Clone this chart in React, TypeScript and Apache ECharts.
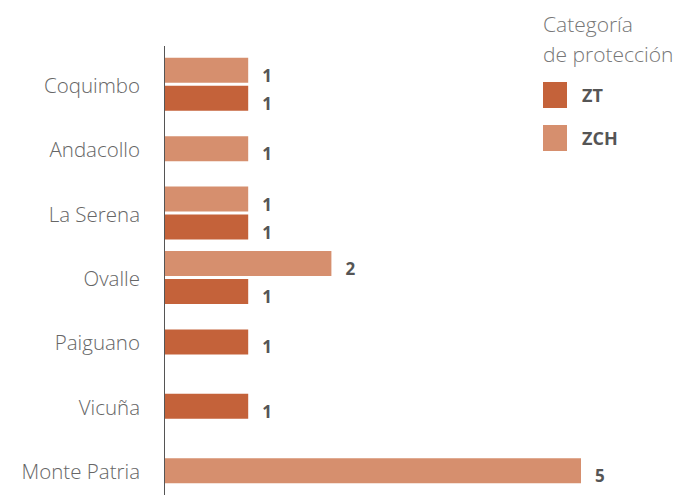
import React, { useEffect, useRef } from "react";
import * as echarts from "echarts";

const categories = ["Coquimbo", "Andacollo", "La Serena", "Ovalle", "Paiguano", "Vicuña", "Monte Patria"];
const ztValues: (number | null)[] = [1, null, 1, 1, 1, 1, null];
const zchValues: (number | null)[] = [1, 1, 1, 2, null, null, 5];
const legendTitle = "Categoría\nde protección";

const ZT_COLOR = "#c4623a";
const ZCH_COLOR = "#d68f6e";
const FONT = "'Open Sans', 'Noto Sans', sans-serif";

export default function App() {
  const ref = useRef<HTMLDivElement>(null);
  useEffect(() => {
    if (!ref.current) return;
    document.body.style.overflow = "hidden";
    const chart = echarts.init(ref.current, undefined, { renderer: "svg" });
    const both = categories.map((_, i) => ztValues[i] != null && zchValues[i] != null);
    const pairZch = zchValues.map((v, i) => (both[i] ? v : null));
    const pairZt = ztValues.map((v, i) => (both[i] ? v : null));
    const singleZch = zchValues.map((v, i) => (!both[i] ? v : null));
    const singleZt = ztValues.map((v, i) => (!both[i] ? v : null));

    const label = {
      show: true,
      position: "right" as const,
      distance: 14,
      color: "#555",
      fontWeight: "bold" as const,
      fontSize: 17,
      fontFamily: FONT,
      offset: [0, 5],
    };

    chart.setOption({
      animation: false,
      title: {
        text: legendTitle,
        left: 538,
        top: 4,
        textStyle: { fontSize: 21, lineHeight: 30, color: "#777", fontWeight: 300, fontFamily: FONT },
      },
      legend: {
        data: ["ZT", "ZCH"],
        orient: "vertical",
        left: 538,
        top: 77,
        itemWidth: 24,
        itemHeight: 26,
        itemGap: 17,
        icon: "rect",
        textStyle: { fontSize: 18, fontWeight: "bold", color: "#555", fontFamily: FONT, padding: [0, 0, 0, 10] },
        selectedMode: false,
      },
      grid: { left: 165, top: 52, width: 416, height: 451 },
      xAxis: { type: "value", min: 0, max: 5, show: false },
      yAxis: [
        {
          type: "category",
          data: categories,
          inverse: true,
          axisLine: { show: false },
          axisTick: { show: false },
          axisLabel: {
            margin: 25,
            fontSize: 20.5,
            color: "#666",
            fontWeight: 300,
            fontFamily: FONT,
            verticalAlign: "top",
            padding: [-10, 0, 0, 0],
          },
        },
        {
          type: "category",
          data: categories,
          inverse: true,
          show: false,
          position: "left",
        },
      ],
      graphic: [
        {
          type: "line",
          shape: { x1: 164.5, y1: 46, x2: 164.5, y2: 520 },
          style: { stroke: "#555", lineWidth: 1 },
        },
      ],
      series: [
        { name: "ZCH", type: "bar", yAxisIndex: 0, data: pairZch, barWidth: 25, barGap: "12%", itemStyle: { color: ZCH_COLOR }, label },
        { name: "ZT", type: "bar", yAxisIndex: 0, data: pairZt, barWidth: 25, barGap: "12%", itemStyle: { color: ZT_COLOR }, label },
        { name: "ZCH", type: "bar", yAxisIndex: 1, stack: "single", data: singleZch, barWidth: 25, itemStyle: { color: ZCH_COLOR }, label },
        { name: "ZT", type: "bar", yAxisIndex: 1, stack: "single", data: singleZt, barWidth: 25, itemStyle: { color: ZT_COLOR }, label },
      ],
    });
    return () => chart.dispose();
  }, []);
  return (
    <div style={{ width: 680, height: 495, position: "absolute", left: 0, top: 0, overflow: "hidden" }}>
      <div ref={ref} style={{ width: 680, height: 520 }} />
    </div>
  );
}
